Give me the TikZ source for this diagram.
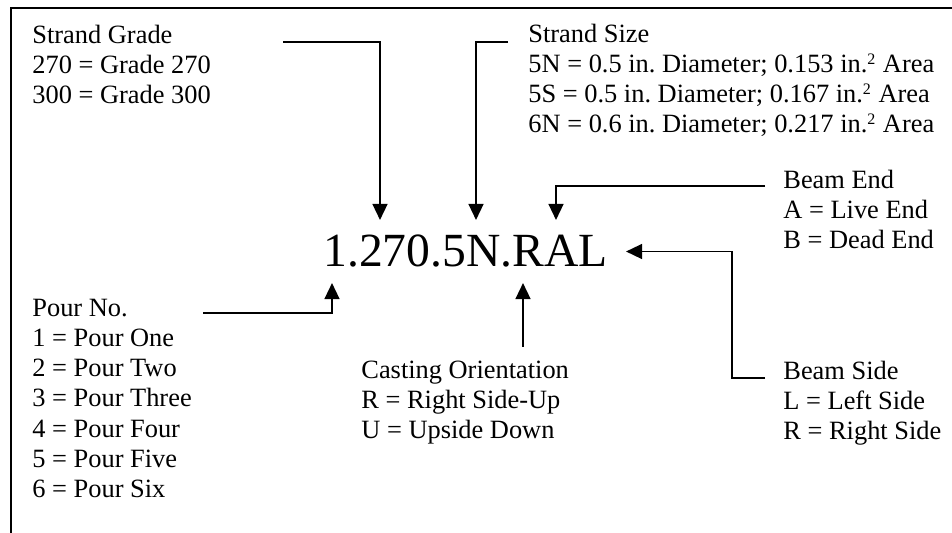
\documentclass[tikz,border=0pt]{standalone}
\usepackage{fontspec}
\setmainfont{Liberation Serif}
\usepackage{tikz}
\usetikzlibrary{arrows.meta,positioning}
\frenchspacing
\tikzset{
  keytext/.style={anchor=base west, align=left, inner sep=0pt, font=\fontsize{13.2pt}{15pt}\selectfont},
  pointer/.style={-{Triangle[length=8pt,width=7.5pt]}, line width=0.75pt},
}
\newcommand{\sqin}{in.\textsuperscript{\footnotesize 2}}

\begin{document}
\begin{tikzpicture}[x=0.5pt,y=-0.5pt]
    \useasboundingbox (0,0) rectangle (952,533);

    % frame
    \draw[line width=1pt] (11,533) -- (11,8) -- (952,8);

    % designation
    \node[anchor=base west, inner xsep=9pt, inner ysep=7.5pt, font=\fontsize{23.8pt}{28pt}\selectfont]
        (code) at (305,267) {1.270.5N.RAL};

    % keys (placed at the baseline of their last line)
    \node[keytext] (gradeKey) at (32,104) {Strand Grade\\270 = Grade 270\\300 = Grade 300};
    \node[keytext] (sizeKey) at (528,133) {Strand Size\\5N = 0.5 in. Diameter; 0.153 \sqin{} Area\\5S = 0.5 in. Diameter; 0.167 \sqin{} Area\\6N = 0.6 in. Diameter; 0.217 \sqin{} Area};
    \node[keytext] (endKey) at (783,249) {Beam End\\A = Live End\\B = Dead End};
    \node[keytext] (pourKey) at (32,497) {Pour No.\\1 = Pour One\\2 = Pour Two\\3 = Pour Three\\4 = Pour Four\\5 = Pour Five\\6 = Pour Six};
    \node[keytext] (castKey) at (361,439) {Casting Orientation\\R = Right Side-Up\\U = Upside Down};
    \node[keytext] (sideKey) at (783,440) {Beam Side\\L = Left Side\\R = Right Side};

    % arrow tails
    \coordinate (gradeTail) at (283,42);
    \coordinate (sizeTail) at (508,42);
    \coordinate (endTail) at (765,186);
    \coordinate (sideTail) at (765,378);
    \coordinate (sideBend) at (732,378);
    \coordinate (pourTail) at (203,313);
    \coordinate (castTail) at (523,347);

    % arrows
    \draw[pointer] (gradeTail) -| (code.north -| 380,0);
    \draw[pointer] (sizeTail) -| (code.north -| 476,0);
    \draw[pointer] (endTail) -| (code.north -| 556,0);
    \draw[pointer] (sideTail) -- (sideBend) -- (sideBend |- code.east) -- (code.east);
    \draw[pointer] (pourTail) -| (code.south -| 332,0);
    \draw[pointer] (castTail) -- (castTail |- code.south);
\end{tikzpicture}
\end{document}
